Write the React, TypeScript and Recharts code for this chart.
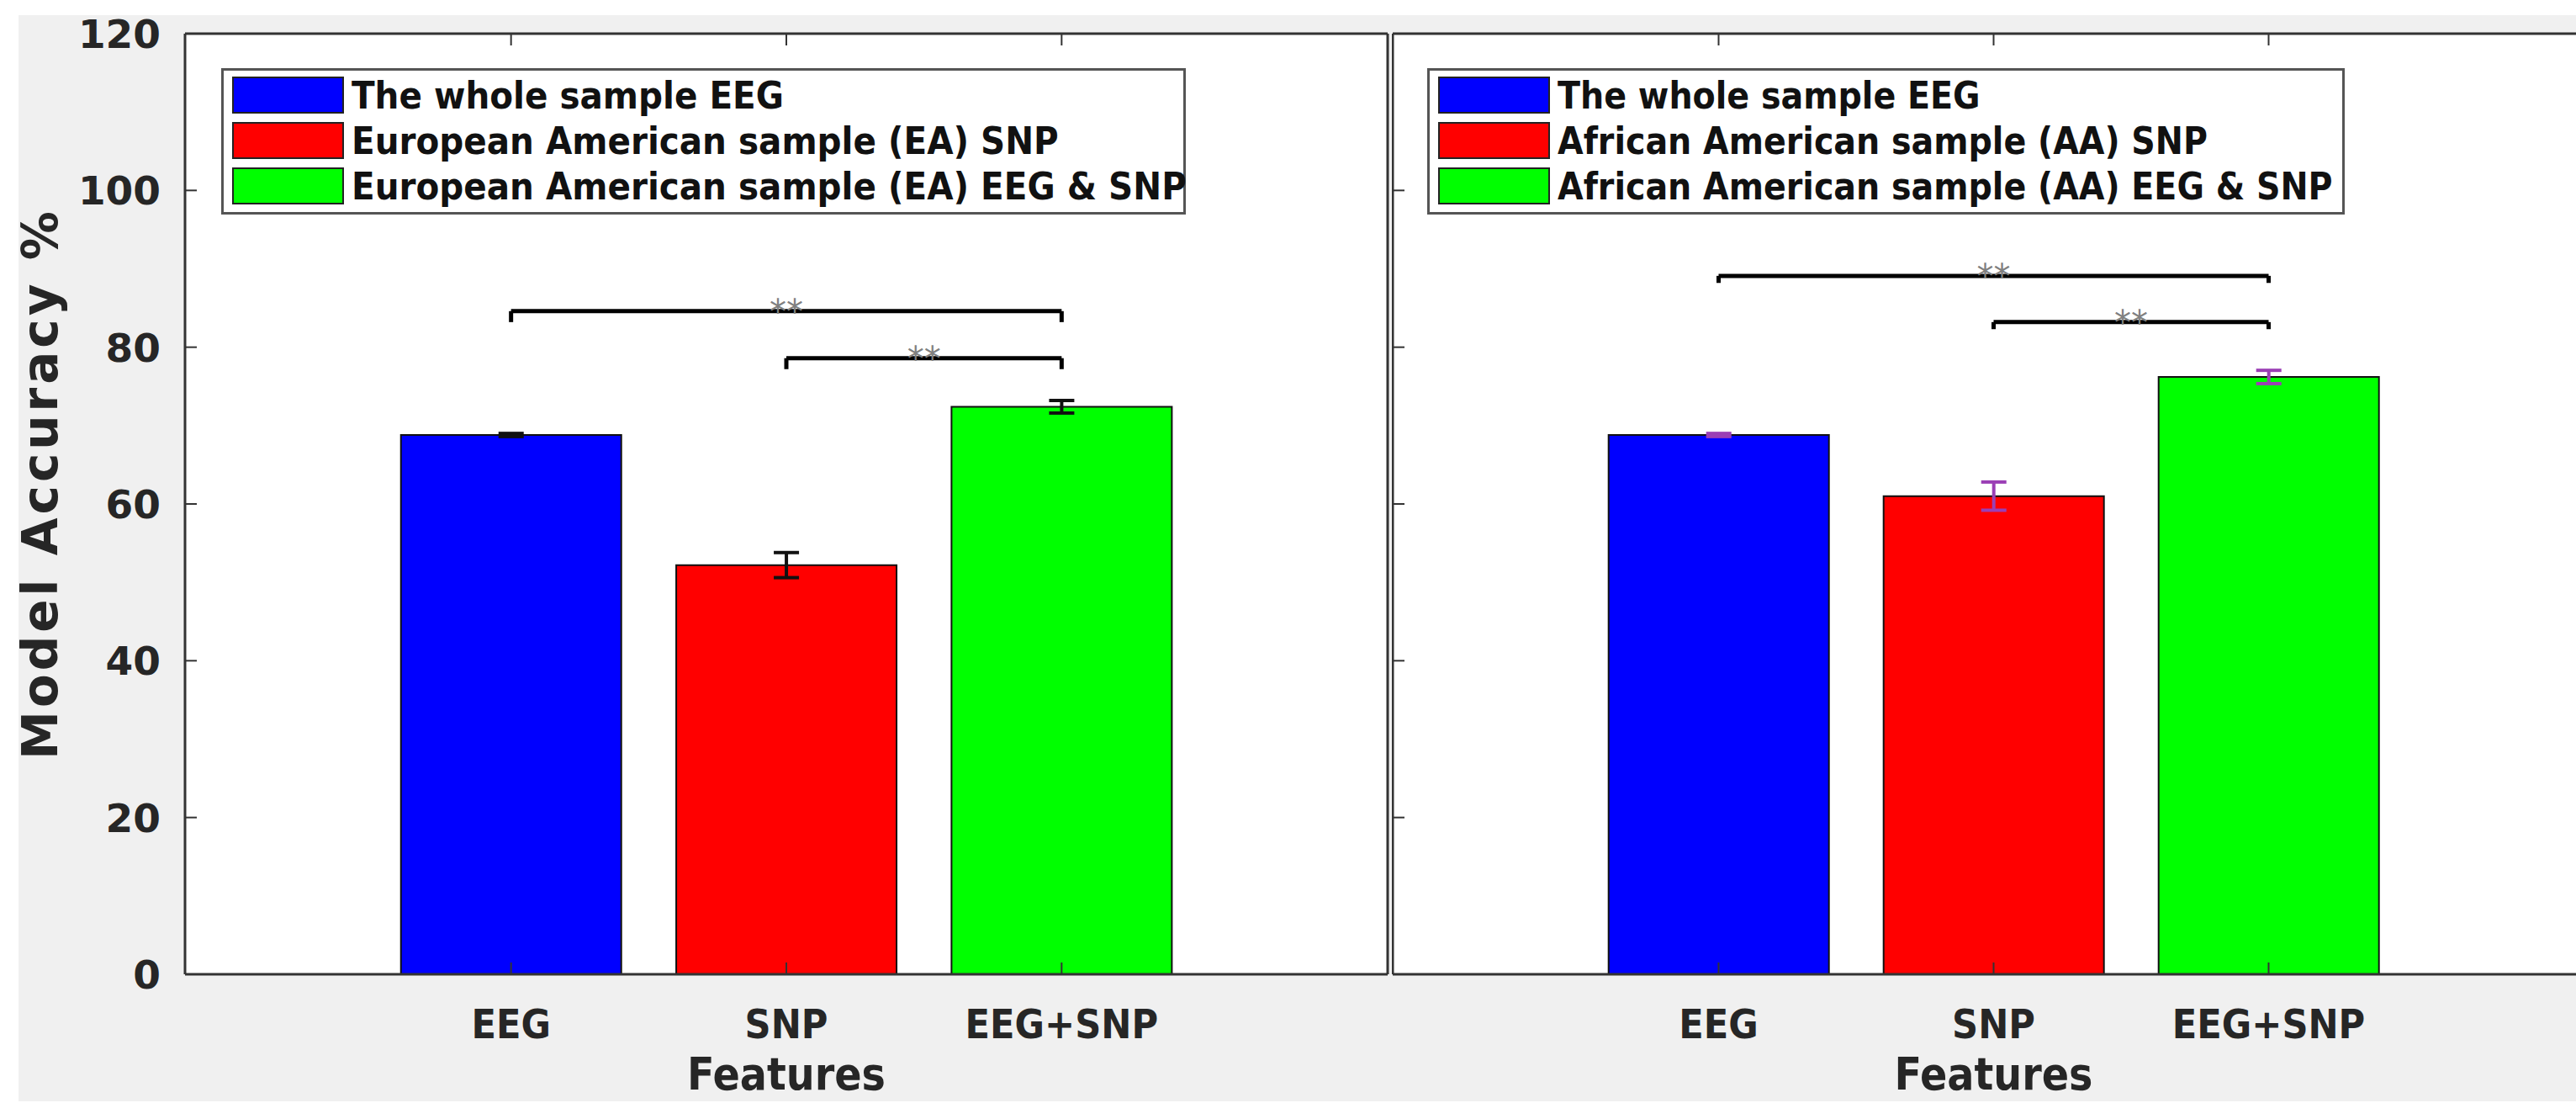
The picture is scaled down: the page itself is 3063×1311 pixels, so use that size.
import React from "react";
import {
    Bar,
    BarChart,
    CartesianGrid,
    Cell,
    ErrorBar,
    Legend,
    ReferenceLine,
    XAxis,
    YAxis,
} from "recharts";

// values
const categories = ["EEG", "SNP", "EEG+SNP"];
const barColors = ["#0000ff", "#ff0000", "#00ff00"];
const yTicks = [0, 20, 40, 60, 80, 100, 120];

const eaAccuracy = [68.8, 52.2, 72.4];
const eaError = [0.2, 1.6, 0.8];
const aaAccuracy = [68.8, 61.0, 76.2];
const aaError = [0.2, 1.8, 0.85];

const eaLegend = [
    "The whole sample EEG",
    "European American sample (EA) SNP",
    "European American sample (EA) EEG & SNP",
];
const aaLegend = [
    "The whole sample EEG",
    "African American sample (AA) SNP",
    "African American sample (AA) EEG & SNP",
];

const eaBrackets = [
    { from: "EEG", to: "EEG+SNP", y: 84.6, drop: 1.4 },
    { from: "SNP", to: "EEG+SNP", y: 78.6, drop: 1.4 },
];
const aaBrackets = [
    { from: "EEG", to: "EEG+SNP", y: 89.1, drop: 0.9 },
    { from: "SNP", to: "EEG+SNP", y: 83.2, drop: 0.9 },
];

const condensed = "'DejaVu Sans Condensed', 'DejaVu Sans', sans-serif";
const axisColor = "#333";
const textColor = "#262626";

const BottomTick = (props: any) => {
    const { x, y, payload } = props;
    return (
        <g>
            <line x1={x} x2={x} y1={y} y2={y - 14} stroke={axisColor} strokeWidth={2} />
            <text
                x={x}
                y={y + 76}
                textAnchor="middle"
                fontFamily={condensed}
                fontStretch="condensed"
                fontWeight="bold"
                fontSize={48}
                fill={textColor}
            >
                {payload.value}
            </text>
        </g>
    );
};

const TopTick = (props: any) => {
    const { x, y } = props;
    return <line x1={x} x2={x} y1={y} y2={y + 14} stroke={axisColor} strokeWidth={2} />;
};

const LeftTick = (props: any) => {
    const { x, y, payload, showLabel } = props;
    return (
        <g>
            <line x1={x} x2={x + 14} y1={y} y2={y} stroke={axisColor} strokeWidth={2} />
            {showLabel && (
                <text
                    x={x - 29}
                    y={y + 17}
                    textAnchor="end"
                    fontFamily="'DejaVu Sans', sans-serif"
                    fontWeight="bold"
                    fontSize={47}
                    fill={textColor}
                >
                    {payload.value}
                </text>
            )}
        </g>
    );
};

const RightTick = (props: any) => {
    const { x, y } = props;
    return <line x1={x} x2={x - 14} y1={y} y2={y} stroke={axisColor} strokeWidth={2} />;
};

const YTitle = (props: any) => {
    const { viewBox } = props;
    const cx = viewBox.x + 48;
    const cy = viewBox.y + viewBox.height / 2 - 24;
    return (
        <text
            x={cx}
            y={cy}
            transform={`rotate(-90, ${cx}, ${cy})`}
            textAnchor="middle"
            dominantBaseline="central"
            fontFamily="'DejaVu Sans', sans-serif"
            fontWeight="bold"
            fontSize={58}
            letterSpacing={4}
            fill={textColor}
        >
            Model Accuracy %
        </text>
    );
};

const XTitle = (props: any) => {
    const { viewBox } = props;
    return (
        <text
            x={viewBox.x + viewBox.width / 2}
            y={viewBox.y + 137}
            textAnchor="middle"
            fontFamily={condensed}
            fontStretch="condensed"
            fontWeight="bold"
            fontSize={53}
            fill={textColor}
        >
            Features
        </text>
    );
};

const Stars = (props: any) => {
    const { viewBox } = props;
    return (
        <text
            x={viewBox.x + viewBox.width / 2}
            y={viewBox.y + 15}
            textAnchor="middle"
            fontFamily="'DejaVu Sans', sans-serif"
            fontSize={40}
            fill="#808080"
        >
            **
        </text>
    );
};

const LegendBox = ({
    labels,
    width,
    fontSize,
}: {
    labels: string[];
    width: number;
    fontSize: number;
}) => (
    <div
        style={{
            width,
            height: 174,
            boxSizing: "border-box",
            border: "3px solid #555",
            background: "#fff",
            padding: "2px 10px",
        }}
    >
        {labels.map((label, i) => (
            <div key={label} style={{ display: "flex", alignItems: "center", height: 54 }}>
                <div
                    style={{
                        width: 133,
                        height: 44,
                        flexShrink: 0,
                        boxSizing: "border-box",
                        background: barColors[i],
                        border: "2px solid #222",
                    }}
                />
                <span
                    style={{
                        marginLeft: 9,
                        fontFamily: condensed,
                        fontStretch: "condensed",
                        fontWeight: "bold",
                        fontSize,
                        color: "#111",
                        whiteSpace: "nowrap",
                    }}
                >
                    {label}
                </span>
            </div>
        ))}
    </div>
);

type PanelProps = {
    accuracy: number[];
    error: number[];
    legend: string[];
    brackets: { from: string; to: string; y: number; drop: number }[];
    errColor: string;
    yAxisWidth: number;
    showYLabels: boolean;
    left: number;
    legendLeft: number;
    legendWidth: number;
    legendFont: number;
};

const Panel = ({
    accuracy,
    error,
    legend,
    brackets,
    errColor,
    yAxisWidth,
    showYLabels,
    left,
    legendLeft,
    legendWidth,
    legendFont,
}: PanelProps) => {
    const data = categories.map((name, i) => ({
        name,
        value: accuracy[i],
        err: error[i],
    }));
    const plotWidth = 1430;
    return (
        <div style={{ position: "absolute", left, top: 0 }}>
            <BarChart
                width={yAxisWidth + plotWidth + 2}
                height={1311}
                data={data}
                margin={{ top: 39, right: 1, bottom: 0, left: 0 }}
                barCategoryGap="10%"
            >
                <CartesianGrid fill="#fff" horizontal={false} vertical={false} />
                <XAxis
                    dataKey="name"
                    height={153}
                    padding={{ left: 224, right: 224 }}
                    axisLine={{ stroke: axisColor, strokeWidth: 3 }}
                    tickLine={false}
                    tickSize={0}
                    tickMargin={0}
                    tick={<BottomTick />}
                    interval={0}
                    label={<XTitle />}
                />
                <XAxis
                    xAxisId="top"
                    dataKey="name"
                    orientation="top"
                    height={1}
                    padding={{ left: 224, right: 224 }}
                    axisLine={{ stroke: axisColor, strokeWidth: 3 }}
                    tickLine={false}
                    tickSize={0}
                    tickMargin={0}
                    tick={<TopTick />}
                    interval={0}
                />
                <YAxis
                    width={yAxisWidth || 1}
                    domain={[0, 120]}
                    ticks={yTicks}
                    type="number"
                    axisLine={{ stroke: axisColor, strokeWidth: 3 }}
                    tickLine={false}
                    tickSize={0}
                    tickMargin={0}
                    tick={<LeftTick showLabel={showYLabels} />}
                    interval={0}
                    label={showYLabels ? <YTitle /> : undefined}
                />
                <YAxis
                    yAxisId="right"
                    orientation="right"
                    width={1}
                    domain={[0, 120]}
                    ticks={yTicks}
                    type="number"
                    axisLine={{ stroke: axisColor, strokeWidth: 3 }}
                    tickLine={false}
                    tickSize={0}
                    tickMargin={0}
                    tick={<RightTick />}
                    interval={0}
                />
                <Legend
                    layout="horizontal"
                    verticalAlign="middle"
                    align="center"
                    wrapperStyle={{ left: legendLeft, top: 81, width: legendWidth }}
                    content={() => (
                        <LegendBox labels={legend} width={legendWidth} fontSize={legendFont} />
                    )}
                />
                <Bar dataKey="value" stroke="#111" strokeWidth={2} isAnimationActive={false}>
                    {data.map((d, i) => (
                        <Cell key={d.name} fill={barColors[i]} />
                    ))}
                    <ErrorBar
                        dataKey="err"
                        width={15}
                        stroke={errColor}
                        strokeWidth={4}
                        isAnimationActive={false}
                    />
                </Bar>
                {brackets.map((b) => (
                    <ReferenceLine
                        key={`h-${b.from}`}
                        segment={[
                            { x: b.from, y: b.y },
                            { x: b.to, y: b.y },
                        ]}
                        stroke="#000"
                        strokeWidth={5}
                        label={<Stars />}
                    />
                ))}
                {brackets.flatMap((b) =>
                    [b.from, b.to].map((c) => (
                        <ReferenceLine
                            key={`v-${b.from}-${c}`}
                            segment={[
                                { x: c, y: b.y },
                                { x: c, y: b.y - b.drop },
                            ]}
                            stroke="#000"
                            strokeWidth={5}
                        />
                    ))
                )}
            </BarChart>
        </div>
    );
};

export default function App() {
    return (
        <div
            style={{
                position: "relative",
                width: 3063,
                height: 1311,
                overflow: "hidden",
                background: "#fff",
            }}
        >
            <style>{`body { margin: 0; }`}</style>
            <div
                style={{
                    position: "absolute",
                    left: 22,
                    top: 18,
                    width: 3041,
                    height: 1291,
                    background: "#f0f0f0",
                }}
            />
            <Panel
                accuracy={eaAccuracy}
                error={eaError}
                legend={eaLegend}
                brackets={eaBrackets}
                errColor="#111"
                yAxisWidth={220}
                showYLabels
                left={0}
                legendLeft={263}
                legendWidth={1147}
                legendFont={45}
            />
            <Panel
                accuracy={aaAccuracy}
                error={aaError}
                legend={aaLegend}
                brackets={aaBrackets}
                errColor="#9b3fb5"
                yAxisWidth={0}
                showYLabels={false}
                left={1655}
                legendLeft={42}
                legendWidth={1091}
                legendFont={44}
            />
        </div>
    );
}
